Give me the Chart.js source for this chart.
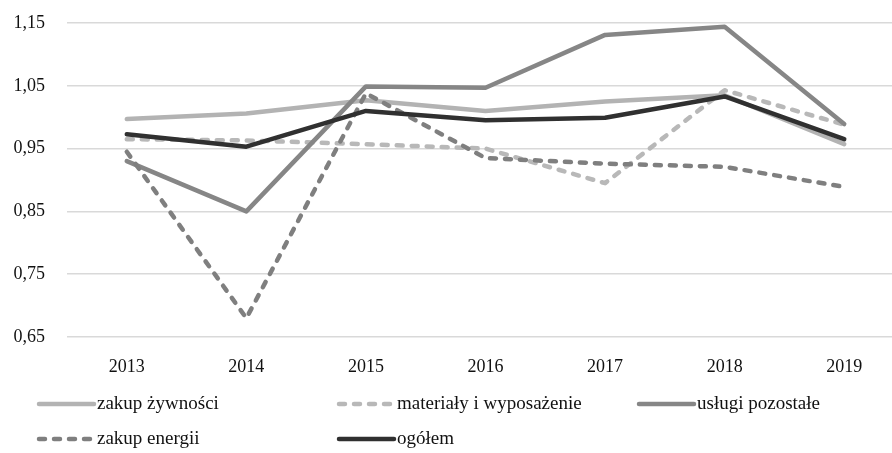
<!DOCTYPE html>
<html>
<head>
<meta charset="utf-8">
<script src="https://cdn.jsdelivr.net/npm/chart.js@4"></script>
<style>
    html, body { margin: 0; padding: 0; background: #fff; overflow: hidden; }
    #chart { display: block; }
</style>
</head>
<body>
<canvas id="chart" width="904" height="453"></canvas>
<script>
const years = ["2013", "2014", "2015", "2016", "2017", "2018", "2019"];

const zakupZywnosci = [0.997, 1.006, 1.027, 1.010, 1.025, 1.035, 0.957];
const materialy = [0.965, 0.963, 0.957, 0.950, 0.895, 1.043, 0.988];
const uslugiPozostale = [0.930, 0.850, 1.049, 1.047, 1.131, 1.144, 0.989];
const zakupEnergii = [0.945, 0.680, 1.038, 0.935, 0.926, 0.921, 0.889];
const ogolem = [0.973, 0.953, 1.010, 0.995, 0.999, 1.033, 0.965];

const yTicks = [0.65, 0.75, 0.85, 0.95, 1.05, 1.15];

const series = [
    { label: "zakup żywności", data: zakupZywnosci, color: "#b3b3b3", dash: [], order: 5 },
    { label: "materiały i wyposażenie", data: materialy, color: "#b8b8b8", dash: [6, 9], order: 4 },
    { label: "usługi pozostałe", data: uslugiPozostale, color: "#868686", dash: [], order: 3 },
    { label: "zakup energii", data: zakupEnergii, color: "#7f7f7f", dash: [6, 9], order: 2 },
    { label: "ogółem", data: ogolem, color: "#303030", dash: [], order: 1 }
];

const FONT = "'Liberation Serif', 'Times New Roman', serif";

// legend drawn on the canvas in a fixed 300px column grid
const legendPlugin = {
    id: "gridLegend",
    afterDraw(chart) {
        const ctx = chart.ctx;
        ctx.save();
        ctx.font = "19px " + FONT;
        ctx.textBaseline = "middle";
        ctx.fillStyle = "#111";
        series.forEach((s, i) => {
            const col = i % 3;
            const row = Math.floor(i / 3);
            const x = 39 + col * 300;
            const y = 404 + row * 35;
            ctx.beginPath();
            ctx.strokeStyle = s.color;
            ctx.lineWidth = 4.5;
            ctx.lineCap = "round";
            ctx.setLineDash(s.dash);
            ctx.moveTo(x, y);
            ctx.lineTo(x + 55, y);
            ctx.stroke();
            ctx.setLineDash([]);
            ctx.fillText(s.label, x + 58, y);
        });
        ctx.restore();
    }
};

new Chart(document.getElementById("chart"), {
    type: "line",
    data: {
        labels: years,
        datasets: series.map(s => ({
            label: s.label,
            data: s.data,
            borderColor: s.color,
            backgroundColor: s.color,
            borderWidth: 4.5,
            borderDash: s.dash,
            borderCapStyle: "round",
            borderJoinStyle: "round",
            pointRadius: 0,
            tension: 0,
            fill: false,
            order: s.order
        }))
    },
    options: {
        responsive: false,
        maintainAspectRatio: false,
        devicePixelRatio: 1,
        animation: false,
        layout: { padding: { top: 23, right: 0, bottom: 0, left: 0 } },
        plugins: {
            legend: { display: false },
            tooltip: { enabled: false }
        },
        scales: {
            x: {
                offset: true,
                grid: { display: false, drawTicks: false },
                border: { display: false },
                ticks: {
                    color: "#111",
                    padding: 19,
                    font: { family: FONT, size: 18 }
                },
                afterFit(scale) { scale.height = 116; }
            },
            y: {
                min: 0.65,
                max: 1.15,
                afterBuildTicks(scale) {
                    scale.ticks = yTicks.map(v => ({ value: v }));
                },
                grid: { color: "#d9d9d9", lineWidth: 1.5, drawTicks: false },
                border: { display: false },
                ticks: {
                    color: "#111",
                    padding: 22,
                    font: { family: FONT, size: 18 },
                    callback: v => v.toFixed(2).replace(".", ",")
                },
                afterFit(scale) {
                    scale.width = 67;
                    scale.paddingTop = 0;
                    scale.paddingBottom = 0;
                }
            }
        }
    },
    plugins: [legendPlugin]
});
</script>
</body>
</html>
